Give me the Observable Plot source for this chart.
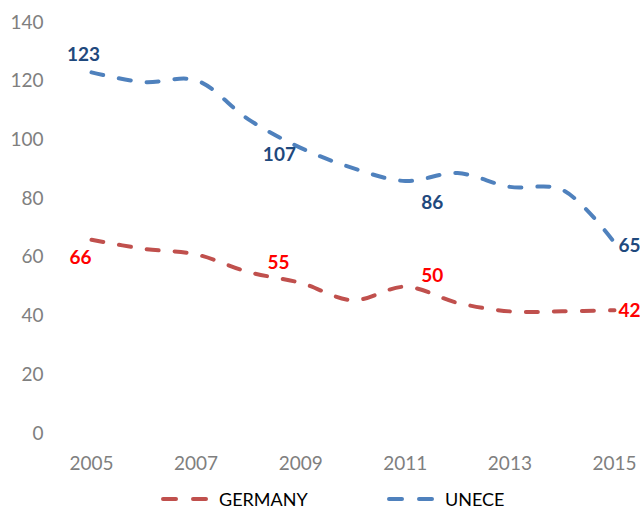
<!DOCTYPE html>
<html>
<head>
<meta charset="utf-8">
<script src="https://cdn.jsdelivr.net/npm/d3@7"></script>
<script src="https://cdn.jsdelivr.net/npm/@observablehq/plot@0.6"></script>
<style>
  html, body { margin: 0; padding: 0; background: #fff; overflow: hidden; }
  #wrap { position: relative; width: 640px; height: 512px; font-family: Lato, "Open Sans", sans-serif; }
  .leg { position: absolute; top: 490px; height: 18px; line-height: 18px; display: flex; align-items: center; font-size: 18px; color: #000; }
  .leg svg { margin-right: 9px; }
</style>
</head>
<body>
<div id="wrap"></div>
<script>
const years = [2005, 2006, 2007, 2008, 2009, 2010, 2011, 2012, 2013, 2014, 2015];
const unece = [123, 119.7, 120.3, 107, 97.3, 90.4, 86, 88.7, 84, 83, 65];
const germany = [66, 62.9, 61, 55, 51.3, 45.4, 50, 44.5, 41.6, 41.6, 42];
const xTicks = [2005, 2007, 2009, 2011, 2013, 2015];
const yTicks = [0, 20, 40, 60, 80, 100, 120, 140];
const labelYears = [2005, 2008, 2011, 2015];
const seriesNames = ["GERMANY", "UNECE"];

const rowsU = years.map((year, i) => ({year, value: unece[i], series: "UNECE"}));
const rowsG = years.map((year, i) => ({year, value: germany[i], series: "GERMANY"}));
const lab = (rows, yr) => rows.filter(d => d.year === yr);

const blue = "#4F81BD", red = "#C0504D", blueLab = "#1F497D", redLab = "#FF0000";
const lineOpts = {strokeWidth: 4, strokeDasharray: "12,16", strokeLinecap: "round", curve: "catmull-rom"};
const tOpts = {fontWeight: "bold", fontSize: 19, textAnchor: "middle"};

const uOff = [[-8, -18], [31, 36], [27, 22], [15, 3]];
const gOff = [[-11, 18], [30, -9], [27, -11], [15, 1]];

const marks = [
  Plot.axisY({ticks: yTicks, tickSize: 0, tickPadding: 48, fontSize: 19, color: "#7F7F7F", label: null}),
  Plot.axisX({ticks: xTicks, tickSize: 0, tickPadding: 23, fontSize: 19, color: "#7F7F7F", label: null, tickFormat: d => String(d)}),
  Plot.line(rowsG, {x: "year", y: "value", stroke: red, ...lineOpts}),
  Plot.line(rowsU, {x: "year", y: "value", stroke: blue, ...lineOpts}),
];
labelYears.forEach((yr, i) => {
  marks.push(Plot.text(lab(rowsU, yr), {x: "year", y: "value", text: d => String(d.value), fill: blueLab, dx: uOff[i][0], dy: uOff[i][1], ...tOpts}));
  marks.push(Plot.text(lab(rowsG, yr), {x: "year", y: "value", text: d => String(d.value), fill: redLab, dx: gOff[i][0], dy: gOff[i][1], ...tOpts}));
});

const chart = Plot.plot({
  width: 640,
  height: 480,
  marginTop: 22,
  marginBottom: 47,
  marginLeft: 91,
  marginRight: 26,
  style: {fontFamily: "Lato, 'Open Sans', sans-serif", background: "#fff", overflow: "hidden"},
  x: {domain: [2005, 2015]},
  y: {domain: [0, 140]},
  marks
});
const wrap = document.getElementById("wrap");
wrap.appendChild(chart);

const legendItems = [
  {name: seriesNames[0], color: red, left: 161},
  {name: seriesNames[1], color: blue, left: 387}
];
legendItems.forEach(it => {
  const div = document.createElement("div");
  div.className = "leg";
  div.style.left = it.left + "px";
  div.innerHTML = `<svg width="49" height="8"><line x1="2" x2="47" y1="4" y2="4" stroke="${it.color}" stroke-width="4" stroke-linecap="round" stroke-dasharray="13,17"/></svg><span>${it.name}</span>`;
  wrap.appendChild(div);
});
</script>
</body>
</html>
